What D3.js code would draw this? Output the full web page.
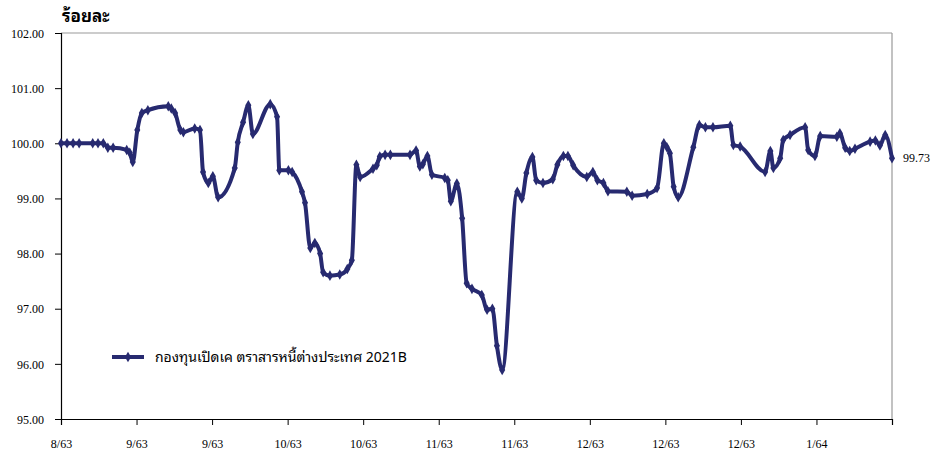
<!DOCTYPE html>
<html>
<head>
<meta charset="utf-8">
<script src="https://cdn.jsdelivr.net/npm/d3@7"></script>
<style>
  body { margin: 0; background: #fff; }
  svg { display: block; }
  .tick-label { font-family: "Liberation Serif", "Times New Roman", serif; font-size: 12px; fill: #000; }
  .thai { font-family: "Noto Sans Thai Looped", "Noto Looped Thai", "Loma", "Garuda", "Tahoma", "Noto Sans Thai", "Noto Sans", sans-serif; }
</style>
</head>
<body>
<div id="chart"></div>
<script>
// x positions in axis units (10 units per labelled tick)
const days = [0, 0.8, 1.6, 2.4, 4.2, 4.9, 5.6, 6.2, 6.9, 8.7, 9.1, 9.5, 10.1, 10.7, 11.5, 14.2, 14.6, 15.1, 15.8, 16.2,
  17.7, 18.4, 18.8, 19.5, 20.1, 20.8, 23.0, 23.4, 24.1, 24.8, 25.4, 27.7, 28.6, 28.9, 30.1, 30.6, 31.9, 32.3, 33.0, 33.6,
  34.3, 34.7, 35.6, 36.9, 37.9, 38.5, 39.1, 39.6, 41.3, 41.8, 42.2, 42.9, 43.6, 46.2, 47.0, 47.5, 47.9, 48.5, 49.1, 50.8,
  51.2, 51.6, 52.4, 53.1, 53.7, 54.4, 55.7, 56.4, 57.1, 57.7, 58.4, 60.4, 61.0, 61.6, 62.4, 62.9, 63.8, 65.1, 65.7, 66.5,
  67.1, 67.8, 69.6, 70.4, 71.0, 71.8, 72.4, 74.9, 75.6, 77.6, 78.9, 79.8, 80.2, 80.6, 81.1, 81.7, 83.7, 84.5, 85.3, 86.3,
  88.6, 89.0, 89.9, 93.2, 93.9, 94.3, 95.2, 95.6, 96.5, 98.5, 98.9, 99.8, 100.5, 102.7, 103.1, 103.8, 104.4, 105.1, 107.1, 107.8,
  108.4, 109.1, 110];
const values = [100.00, 100.00, 100.00, 100.00, 100.00, 100.00, 100.00, 99.92, 99.92, 99.88, 99.83, 99.66, 100.24, 100.55, 100.60, 100.67, 100.63, 100.55, 100.24, 100.20,
  100.27, 100.24, 99.48, 99.28, 99.40, 99.02, 99.55, 100.02, 100.38, 100.69, 100.17, 100.71, 100.48, 99.51, 99.51, 99.48, 99.12, 98.92, 98.10, 98.19,
  98.00, 97.66, 97.60, 97.62, 97.72, 97.88, 99.61, 99.39, 99.54, 99.60, 99.76, 99.79, 99.79, 99.79, 99.87, 99.58, 99.62, 99.77, 99.43, 99.37,
  99.33, 98.95, 99.27, 98.64, 97.46, 97.36, 97.25, 96.98, 97.00, 96.33, 95.89, 99.12, 99.00, 99.46, 99.75, 99.33, 99.28, 99.35, 99.61, 99.77,
  99.77, 99.60, 99.39, 99.48, 99.33, 99.28, 99.13, 99.12, 99.05, 99.08, 99.19, 100.00, 99.93, 99.82, 99.21, 99.02, 99.93, 100.33, 100.29, 100.29,
  100.32, 99.97, 99.94, 99.48, 99.86, 99.55, 99.73, 100.06, 100.15, 100.29, 99.88, 99.77, 100.13, 100.12, 100.18, 99.92, 99.86, 99.90, 100.03, 100.05,
  99.96, 100.15, 99.73];
const xTickLabels = ['8/63', '9/63', '9/63', '10/63', '10/63', '11/63', '11/63', '12/63', '12/63', '12/63', '1/64', ''];
const yTicks = [95, 96, 97, 98, 99, 100, 101, 102];
const seriesName = 'กองทุนเปิดเค ตราสารหนี้ต่างประเทศ 2021B';
const unitLabel = 'ร้อยละ';

const width = 943, height = 456;
const margin = { top: 33, right: 51, bottom: 37, left: 61 };
const lineColor = '#272a70';

const svg = d3.select('#chart').append('svg')
    .attr('width', width)
    .attr('height', height);

const x = d3.scaleLinear().domain([0, 110]).range([margin.left, width - margin.right]);
const y = d3.scaleLinear().domain([95, 102]).range([height - margin.bottom, margin.top]);

// frame: grey top and right
svg.append('line')
    .attr('x1', x(0)).attr('x2', x(110)).attr('y1', y(102)).attr('y2', y(102))
    .attr('stroke', '#999').attr('stroke-width', 1.2);
svg.append('line')
    .attr('x1', x(110)).attr('x2', x(110)).attr('y1', y(102)).attr('y2', y(95))
    .attr('stroke', '#999').attr('stroke-width', 1.2);

// y axis
const yAxis = svg.append('g')
    .attr('transform', `translate(${margin.left},0)`)
    .call(d3.axisLeft(y).tickValues(yTicks).tickSize(6).tickPadding(11).tickFormat(d3.format('.2f')));
yAxis.select('.domain').attr('stroke', '#000').attr('stroke-width', 1.2);
yAxis.selectAll('.tick line').attr('stroke', '#000');
yAxis.selectAll('.tick text').attr('class', 'tick-label').attr('dy', '0.35em');

// x axis
const xAxis = svg.append('g')
    .attr('transform', `translate(0,${height - margin.bottom})`)
    .call(d3.axisBottom(x).tickValues(d3.range(0, 111, 10)).tickSize(6).tickPadding(14)
        .tickFormat((d, i) => xTickLabels[i]));
xAxis.select('.domain').attr('stroke', '#000').attr('stroke-width', 1.2);
xAxis.selectAll('.tick line').attr('stroke', '#000');
xAxis.selectAll('.tick text').attr('class', 'tick-label');

// unit title
svg.append('text')
    .attr('class', 'thai')
    .attr('x', 62)
    .attr('y', 22)
    .style('font-weight', 'bold')
    .style('font-size', '17px')
    .text(unitLabel);

const data = days.map((d, i) => ({ d, v: values[i] }));

const line = d3.line()
    .x(p => x(p.d))
    .y(p => y(p.v))
    .curve(d3.curveMonotoneX);

svg.append('path')
    .datum(data)
    .attr('fill', 'none')
    .attr('stroke', lineColor)
    .attr('stroke-width', 4)
    .attr('stroke-linejoin', 'round')
    .attr('d', line);

const diamond = d3.symbol().type(d3.symbolDiamond).size(32);
svg.append('g')
    .selectAll('path')
    .data(data)
    .join('path')
    .attr('transform', p => `translate(${x(p.d)},${y(p.v)})`)
    .attr('d', diamond)
    .attr('fill', lineColor);

// last value label
const last = data[data.length - 1];
svg.append('text')
    .attr('class', 'tick-label')
    .attr('x', x(last.d) + 11)
    .attr('y', y(last.v) + 4)
    .text(last.v.toFixed(2));

// legend
const lg = svg.append('g').attr('transform', 'translate(112,357)');
lg.append('line')
    .attr('x1', 0).attr('x2', 32).attr('y1', 0).attr('y2', 0)
    .attr('stroke', lineColor).attr('stroke-width', 4);
lg.append('path')
    .attr('transform', 'translate(16,0)')
    .attr('d', diamond)
    .attr('fill', lineColor);
lg.append('text')
    .attr('class', 'thai')
    .attr('x', 43)
    .attr('y', 5)
    .style('font-size', '14px')
    .text(seriesName);
</script>
</body>
</html>
